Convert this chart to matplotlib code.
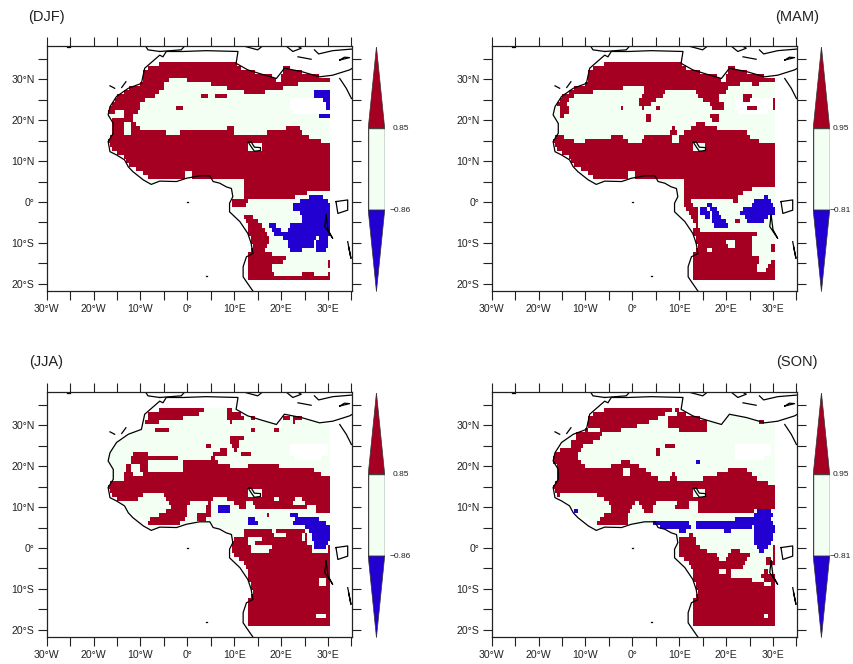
import numpy as np
import matplotlib
matplotlib.use('Agg')
import matplotlib.pyplot as plt
from matplotlib.colors import ListedColormap, BoundaryNorm

plt.rcParams['font.family'] = ['Liberation Sans', 'DejaVu Sans']

RED = '#A50021'
BLUE = '#2200D2'
PALE = '#F4FFF4'

# rows go from 34N down to 19S, one string per row: kind lon0 lon1
# r = high, b = low, w = neutral (default on land), x = no data
DJF = [
    "r -20 31", "r -20 31", "r -20 31", "r -20 31",
    "r -20 -3.8, r 0 31",
    "r -20 -4.8, r 5 23.5",
    "r -20 -5.2, r 8.3 20.4",
    "r -20 -6, r 12.2 16.5, b 27.1 30.5",
    "r -20 -7, r 3 4.7, r 5.8 8.3, b 27.1 30.5",
    "r -20 -9, x 22.2 29, b 29 30.5",
    "r -20 -10.2, x 22.2 29.5, b 29.5 30.5",
    "r -20 -10.2, r -2.5 -1, x 22.2 29.5, b 29.5 30.3",
    "r -20 -15.5, r -13.3 -10.5, x 22.5 28",
    "r -13.4 -11.5, b 27.8 30.5",
    "r -20 -11.5",
    "r -20 -13.4, r -11.9 -11",
    "r -20 -13.4, r -11.9 -10, r 8.5 10, r 21 24",
    "r -20 -13.4, r -12 -4.5, r -1.5 10, r 17 24.6",
    "r -20 26",
    "r -20 28.5",
    "r -20 31, w 13 15.8",
    "r -20 31, w 13 15.8",
    "r -20 31", "r -20 31", "r -20 31", "r -20 31", "r -20 31",
    "r -20 -0.5, r 1 31",
    "r -20 -0.5, r 1 31",
    "r 12.2 31", "r 12.2 31", "r 12.2 31",
    "r 12.2 25.5",
    "r 12.2 23, b 26 29",
    "r 9.7 13, b 24 30",
    "r 9.7 12.5, b 22.5 30.3",
    "b 22.5 30.5",
    "b 24 30.5",
    "r 12 14, b 24.5 30.5",
    "r 12.5 15, b 24.5 30.3",
    "r 13 16, b 17.5 19, b 22 30.5",
    "r 13 16.5, b 18 20, b 21.5 30.5",
    "r 13 17, b 18.5 30.5",
    "r 13.2 17.5, b 20.5 27.5, b 28 29.8",
    "r 13.5 17.5, b 21.5 27, b 27.5 30",
    "r 13.8 17, b 21.5 27, b 27.5 29.8",
    "r 13.5 16.5, b 22 24.5, b 27.5 29.5",
    "r 12.5 18",
    "r 12.5 21",
    "r 12.5 20.7, r 30 30.5",
    "r 12.5 18, r 30 30.5",
    "r 12.5 18",
    "r 12.5 18.5, r 24.5 27, r 30 30.5",
    "r -20 31",
]

MAM = [
    "r -20 31", "r -20 31", "r -20 31", "r -20 31",
    "r -20 31",
    "r -20 23.2, r 25.7 27",
    "r -20 -2, r 2.3 20.5",
    "r -20 -8.7, r 2.7 7, r 13.5 20",
    "r -20 -12.5, r 2 6.3, r 14 18.5, r 23.6 25.4",
    "x 21.8 30, r -20 -13.5, r 1.5 5, r 15 18.5, r 23.6 25, r 30 30.5",
    "x 21.8 30, r -20 -13.8, r 1.6 3.8, r 16.5 19.3, r 30 30.5",
    "x 21.8 30, r -15.7 -13.6, r -2.6 -1.9, r 2 2.7, r 5.2 5.9, r 17 19.3, r 24.6 26.4, r 30 30.5",
    "x 22.5 29, r -15.7 -13.6",
    "r -15.4 -14.5, r 3 4.1, r 16.5 18.6",
    "r 3 4.1, r 16.9 18.6",
    "r 13.5 15.5",
    "r 8.4 9, r 12.3 18",
    "r 8 9.5, r 10.8 24.3",
    "r -20 -14.7, r -4.7 -1.9, r 2.3 8.4, r 10 25",
    "r -20 -12.3, r -10 -1.2, r 2 8.4, r 10 27",
    "r -20 31, w 13 15.4",
    "r -20 31, w 13 15.4",
    "r -20 31", "r -20 31", "r -20 31", "r -20 31", "r -20 31",
    "r -20 -0.8, r 0.6 31",
    "r -20 -0.8, r 0.6 31",
    "r 11.2 31",
    "r 11.2 31",
    "r 11.2 25.5",
    "r 11.2 23.7",
    "r 11.2 22.5, b 27.8 29",
    "r 11.2 12.3, r 21.5 22.3, b 26 29.6",
    "r 11.2 13, b 16.1 17.2, b 25.3 30",
    "r 11.5 14, b 14.7 16, b 16.5 18, b 23.6 30.5",
    "r 12 14, b 14.7 16.5, b 17.2 18.3, b 22.9 30.5",
    "r 12.5 14, b 15.7 16.5, b 17.2 19, b 24 29",
    "r 13 14, b 17.2 19.8, r 21.8 22.9, b 24.3 27.8",
    "r 13.6 14, b 17.5 20.5",
    "r 13 14.7",
    "r 13 26.4",
    "r 13 25.7",
    "r 13 20, r 21.8 25.7",
    "r 13 20.3, r 21.8 25.7, r 29.6 30.5",
    "r 13 16.1, r 17.2 25.7, r 29.6 30.5",
    "r 12.5 25.7",
    "r 12.5 27",
    "r 12.5 27.1, r 29.5 30.5",
    "r 12.5 26.4, r 29 30.5",
    "r 12.5 26.4, r 28.5 30.5",
    "r 12.5 31",
    "r 12.5 31",
]

JJA = [
    "r -6.6 3.3, r 8.3 9.7",
    "r -8.4 2.6, r 8.7 11.5",
    "r -8.7 -0.9, r 8.7 11.9, r 13.6 15, r 20.4 21.8, r 22.5 25",
    "r -8.8 -5.9, r 9 9.7, r 22.5 23.2",
    "",
    "r -7 -4.1, r 13.3 14.3, r 18.3 19.3",
    "",
    "r 9 11.9",
    "r 9 10.8",
    "x 22.2 29.8, r 4 4.9, r 9.4 10.8",
    "x 22.2 29.8, r 6.9 8.3, r 10 10.4",
    "x 22.2 29.8, r -11.6 -8.7, r 5.5 8.3, r 11.5 13.6",
    "x 22.8 28.5, r -12 -2, r 5 6.2",
    "r -12 -8.7, r -1 6.5",
    "r -13 -12, r -10 -8.7, r -1 9, r 13 19.7",
    "r -13 -12, r -10 -8.7, r -1 27",
    "r -13.3 -11.5, r -9.4 28.5",
    "r -13.3 31",
    "r -20 31", "r -20 31",
    "r -20 31, w 13 15.8",
    "r -20 -9.5, r -5 31, w 13 15.8",
    "r -20 -10.5, r -4.5 5.5, r 8.5 18.3, r 19.3 23.2, r 24.6 31",
    "r -20 -14, r -3.8 0.7, r 4.3 4.8, r 10 12.5, r 14 22.5, r 25 31",
    "r -3.4 0.1, r 4 4.8, b 6.7 9, r 10.8 12.6, r 14.3 25.7, r 27.5 31",
    "r -4.5 -0.2, r 4 5.1, b 6.7 9, r 27.5 31",
    "r -6.2 -0.2, r 1.9 4.8, b 21.8 23.6, r 16.8 17.7",
    "r -8 -0.6, r 1.9 4, b 12.9 14.7, b 23.2 28.2",
    "r -8.7 -1.3, b 12.9 15, b 22.4 29.3",
    "b 25 30.3",
    "r 12.2 17.9, r 19 25, b 26 30.5",
    "r 12 18.3, r 21 24.3, r 25 25.7, b 26.4 30.5",
    "r 9.7 12.9, r 16.1 24.3, r 25 25.7, b 26.4 30.3",
    "r 9.7 12.9, r 14.7 25.7, b 27.1 30",
    "r 9.7 13.3, r 17.9 26.4, b 27 29.3, r 30 31",
    "r 9.7 13.3, r 17.5 26.7, r 30 31",
    "r 9 31", "r 10 31", "r 11 31", "r 12 31", "r 12 31",
    "r 12 31", "r 12 31, w 28 29.6", "r 12 31, w 28 29.6",
    "r 12 31", "r 12 31", "r 12 31", "r 12 31", "r 12 31", "r 12 31",
    "r 12 31", "r 12 31, w 27.7 29.4",
    "r 12 31", "r 12 31",
]

SON = [
    "r -20 8.4, r 9 10",
    "r -20 7, r 9.3 12",
    "r -20 5.5, r 7.6 15",
    "r -20 3.5, r 7.3 15.8, r 26.8 29.3",
    "r -20 1, r 7.3 15.8",
    "r -12 -9.3, r -7 -2.6, r 9.8 15.8",
    "r -12 -6.5",
    "r -12 -6.9",
    "r -12.9 -8.6",
    "x 22 29.5, r -13.2 -10.4, r 7 9",
    "x 22 29.5, r -15.7 -11, r 5.2 6.2",
    "x 22 29.5, r -20 -11.7, r 5.2 6.2",
    "x 22 28, r -20 -11.7",
    "r -20 -11, r -2.3 -0.5, b 13.7 14.7",
    "r -20 -10, r -4.4 1.6",
    "r -20 2.8, r 20.4 24.3, w -1.9 -0.6",
    "r -20 3.9, w -1.9 -0.6, r 8.4 9, r 17.9 25.4",
    "r -20 5.5, r 8 9.5, r 15 26.4",
    "r -20 29",
    "r -20 31",
    "r -20 31, w 13 15.4",
    "r -20 -15.5, r -7.5 31, w 13 15.4",
    "r -5.8 31",
    "r -5 0.5, r 1.6 4.8, r 9.5 12, r 14 31",
    "r -4.7 -0.2, r 2 4.5, r 9 12, r 14 31",
    "r -4.7 -0.5, r 2.3 4.5, r 14 26, b 26.4 29.6, b -12.5 -11.5",
    "r -5.8 -0.8, b 26 30, b -13 -11.5",
    "r -7 -1.2, b 22.2 29.6",
    "r -7.6 -1.2, b 4.5 11.9, b 13.3 30",
    "b 6.2 12.3, b 13.7 25.7, b 26 30.5",
    "b 10.1 11.5, b 19.3 21, b 26 30.3",
    "r 11.9 13, b 26 30",
    "r 9.8 13.3, b 26 30",
    "r 9.8 13.7, b 26 29.6",
    "r 9.8 14.4, b 26.4 29, r 30 30.5",
    "r 9.8 16.1, r 21 23.2, b 26.8 28.2, r 30 30.5",
    "r 9.8 17.9, r 20.4 25, r 30 30.5",
    "r 9.8 18.6, r 20 24.7, r 28.4 29.4, r 30 30.5",
    "r 9.8 24, r 28.4 30.5",
    "r 9.8 23.6",
    "r 9.8 18.6, r 20 21.1, r 28 29",
    "r 9.8 21.1, r 27.5 30.5",
    "r 9.8 25.4, r 27.8 30.5",
    "r 9.8 27.8, r 29.6 31",
    "r 13 31", "r 13 31", "r 13 31", "r 13 31", "r 13 31",
    "r 13 31", "r 13 31", "r 13 31, w 27.8 29.1",
    "r 13 31", "r 13 31",
]

# land runs per row, 34N down to 19S
LAND = [
    "-6 10.4", "-8.4 11.5, 20.7 22", "-9.3 14.5, 20.5 24.5", "-9.3 18, 20 28", "-9.5 19, 20 30.5",
    "-10 30.5", "-12.6 30.5", "-13.7 30.5", "-14.8 30.5", "-15.5 30.5", "-15.8 30.5", "-16.4 30.5",
    "-16.8 30.5", "-16.8 30.5", "-15.8 30.5", "-15.8 30.5", "-16 30.5", "-16.2 30.5", "-16.4 30.5",
    "-17 30.5", "-16.7 30.5", "-15.8 30.5", "-15 30.5", "-13.7 30.5", "-13.1 30.5", "-12.3 30.5",
    "-10.9 30.5", "-9.4 30.5", "-8.7 30.5", "-8 -6, 6 30.5", "9 30.5", "9.7 30.5", "9.8 30.5",
    "9.7 30.5", "9.7 30.5", "9.7 30.5", "10 30.5", "11 30.5", "11.8 30.5", "12.3 30.5", "12.8 30.5",
    "13 30.5", "13.2 30.5", "13.4 30.5", "13.6 30.5", "13.9 30.5", "13.6 30.5", "12.9 30.5",
    "12.9 30.5", "12.9 30.5", "12.9 30.5", "12.9 30.5", "12.9 30.5", "12.9 30.5",
]

COAST_LON = [14, 12.6, 11.9, 11.9, 12.6, 14, 13.6, 12.9, 11.2, 9, 9, 9.7, 9.4, 8.3, 6.9, 5.5, 4.8, 2.6, -0.2, -2.3,
             -5.9, -7.7, -9.4, -11.6, -12.6, -13.4, -15.1, -16.5, -16.9, -15.8, -15.8, -16.9, -16.5, -15.1, -12.6,
             -9.8, -9.1, -5.9, -5.2, -4.5, -0.9, 4, 10.8, 10.4, 12.9, 16, 19, 20.7, 24.3, 28.2, 31, 34.6, 35.2]
COAST_LAT = [-21.8, -19.5, -18.3, -15.8, -13.4, -12.6, -10.1, -7.7, -4.8, -2.4, -0.3, 1.3, 3.3, 3.7, 4.6, 5, 6.4, 6.4,
             5.8, 5, 5.1, 4.3, 5.4, 7.4, 8.6, 10.3, 11.5, 12.3, 14.8, 16.8, 19.2, 21.3, 23.3, 25.8, 27.8,
             29, 32.7, 35.9, 35.5, 36.8, 36.8, 37, 36.8, 33.9, 32.3, 31.2, 30.2, 32.7, 31.9, 30.6, 31, 32.3, 32.7]

# short pieces: red sea, europe, islands and lakes as (lons, lats)
OTHER_COAST = [
    ([32.5, 33.9, 35], [30.2, 27.8, 25.3]),
    ([-8.9, -8.4, -5.9], [38.1, 37.2, 36.8]),
    ([-5.9, -1.3, -0.6], [36.8, 37.2, 38.1]),
    ([12.1, 15, 16], [38.1, 37.2, 38.1]),
    ([21.1, 22.5, 24.3, 23.5], [38.1, 36.8, 37.6, 38.1]),
    ([23.6, 26.4], [35.5, 34.9]),
    ([27.1, 28, 31, 35.2], [37.2, 36.2, 37, 37.4]),
    ([32.5, 34.6, 33.5, 32.5], [34.7, 35.3, 35.4, 34.7]),
    ([-16.5, -15.5], [28.4, 27.8]),
    ([-14, -13.1], [28, 29.4]),
    ([13, 13.6, 14.3, 15.6, 15.6, 14.3, 13.8, 13], [14.6, 14.7, 13.4, 13.3, 12.6, 12.4, 13.2, 14.6]),
    ([31.7, 34.2, 34.2, 32.1, 31.7], [0.1, 0.5, -2, -2.8, 0.1]),
    ([29.6, 29.3, 31, 30, 29.6], [-3.2, -6, -8.9, -6.8, -3.2]),
    ([34.2, 34.9, 34.4], [-9.7, -13.8, -11]),
    ([0, 0.1], [0, 0]),
    ([4, 4.1], [-18.1, -18.1]),
    ([-25.6, -25], [38, 38]),
]

XTICKS = [-30, -25, -20, -15, -10, -5, 0, 5, 10, 15, 20, 25, 30, 35]
YTICKS = [-20, -15, -10, -5, 0, 5, 10, 15, 20, 25, 30, 35]
XLABELS = {-30: '30°W', -20: '20°W', -10: '10°W', 0: '0°', 10: '10°E', 20: '20°E', 30: '30°E'}
YLABELS = {-20: '20°S', -10: '10°S', 0: '0°', 10: '10°N', 20: '20°N', 30: '30°N'}

PANELS = ['(DJF)', '(MAM)', '(JJA)', '(SON)']
PANEL_ROWS = [DJF, MAM, JJA, SON]
CB_HIGH = ['0.85', '0.95', '0.85', '0.95']
CB_LOW = ['\u22120.86', '\u22120.81', '\u22120.86', '\u22120.81']

W, H = 854, 664
CODES = {'w': 1, 'r': 2, 'b': 3, 'x': 0}


def px_axes(fig, left, top, right, bottom):
    return fig.add_axes([left / W, 1 - bottom / H, (right - left) / W, (bottom - top) / H])


def build_grid(rows, lon_edges):
    lon_mid = (lon_edges[:-1] + lon_edges[1:]) / 2
    grid = np.zeros((len(rows), len(lon_mid)), dtype=int)
    for i, (row, land) in enumerate(zip(rows, LAND)):
        mask = np.zeros(len(lon_mid), dtype=bool)
        for run in land.split(','):
            a, b = run.split()
            mask |= (lon_mid >= float(a)) & (lon_mid < float(b))
        grid[i][mask] = 1
        for item in row.split(','):
            if not item.strip():
                continue
            kind, a, b = item.split()
            hit = mask & (lon_mid >= float(a)) & (lon_mid < float(b))
            grid[i][hit] = CODES[kind]
    return grid


def draw_map(ax, rows, title, title_x, title_y, title_ha, fig):
    lon_edges = np.arange(-20, 31, 0.5)
    lat_edges = np.linspace(34.3, -19.1, len(rows) + 1)
    grid = build_grid(rows, lon_edges)
    cmap = ListedColormap(['white', PALE, RED, BLUE])
    norm = BoundaryNorm([-0.5, 0.5, 1.5, 2.5, 3.5], 4)
    ax.pcolormesh(lon_edges, lat_edges, grid, cmap=cmap, norm=norm)
    ax.plot(COAST_LON, COAST_LAT, color='black', lw=0.9)
    for lons, lats in OTHER_COAST:
        ax.plot(lons, lats, color='black', lw=0.9)
    ax.set_xlim(-30, 35.16)
    ax.set_ylim(-21.84, 38.14)
    ax.set_xticks(XTICKS)
    ax.set_yticks(YTICKS)
    ax.set_xticklabels([XLABELS.get(t, '') for t in XTICKS], fontsize=7.6, color='#222222')
    ax.set_yticklabels([YLABELS.get(t, '') for t in YTICKS], fontsize=7.6, color='#222222')
    ax.tick_params(top=True, right=True, length=6.3, width=0.8, pad=2.5, color='#222222')
    for s in ax.spines.values():
        s.set_linewidth(0.9)
        s.set_color('#222222')
    fig.text(title_x / W, 1 - title_y / H, title, fontsize=10.5, ha=title_ha, va='center', color='#222222')


def draw_colorbar(ax, high, low, label_x):
    ax.set_xlim(0, 1)
    ax.set_ylim(0, 3)
    ax.axis('off')
    ax.fill([0, 1, 0.5], [2, 2, 3], color=RED, ec='#333333', lw=0.5)
    ax.fill([0, 1, 1, 0], [1, 1, 2, 2], fc=PALE, ec='#444444', lw=1.0)
    ax.fill([0, 1, 0.5], [1, 1, 0], color=BLUE, ec='#333333', lw=0.5)
    ax.text(label_x + 0.05, 2, high, fontsize=6, ha='center', va='center', clip_on=False, color='#222222')
    ax.text(label_x, 1, low, fontsize=6, ha='center', va='center', clip_on=False, color='#222222')


def main():
    fig = plt.figure(figsize=(W / 100, H / 100), dpi=100)
    lefts = [46.7, 491.7, 46.7, 491.7]
    tops = [46, 46, 392, 392]
    label_x = [1.92, 1.62, 1.92, 1.62]
    title_pos = [(28, 16.7, 'left'), (819, 16.7, 'right'), (29, 362, 'left'), (818, 362, 'right')]
    for k in range(4):
        assert len(PANEL_ROWS[k]) == 54, (PANELS[k], len(PANEL_ROWS[k]))
        ax = px_axes(fig, lefts[k], tops[k], lefts[k] + 305.5, tops[k] + 245.3)
        tx, ty, ha = title_pos[k]
        draw_map(ax, PANEL_ROWS[k], PANELS[k], tx, ty, ha, fig)
        cb = px_axes(fig, lefts[k] + 321.5, tops[k] + 0.7, lefts[k] + 338, tops[k] + 245.7)
        draw_colorbar(cb, CB_HIGH[k], CB_LOW[k], label_x[k])
    fig.savefig('out.png', dpi=100)


if __name__ == "__main__":
    main()
